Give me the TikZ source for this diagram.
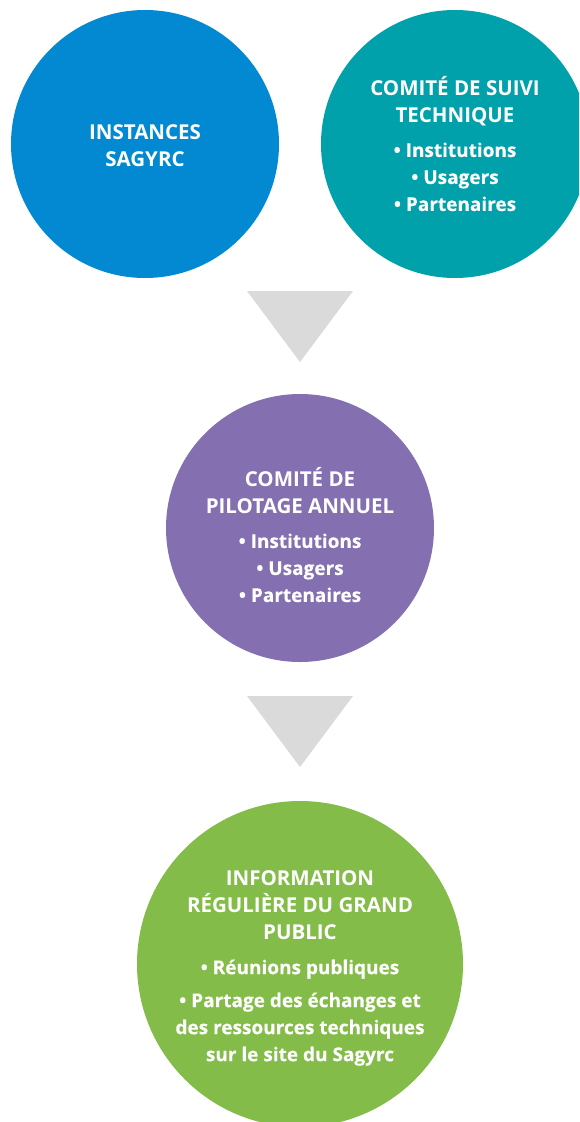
\documentclass[tikz,border=0pt]{standalone}
\usepackage{fontspec}
\setmainfont{Open Sans}
\newfontfamily\itemfont{Open Sans}[FakeBold=0.25]
\usepackage{xcolor}
\definecolor{sagblue}{RGB}{2,137,210}
\definecolor{sagteal}{RGB}{0,161,171}
\definecolor{sagpurple}{RGB}{132,112,176}
\definecolor{saggreen}{RGB}{132,188,73}
\definecolor{arrowgrey}{RGB}{218,218,218}
\newcommand{\itm}[1]{{\itemfont\fontsize{19}{27}\selectfont\textbullet\ #1}}
\newcommand{\itl}[1]{{\itemfont\fontsize{19}{27}\selectfont #1}}

\begin{document}
\begin{tikzpicture}[x=1pt,y=-1pt]
    \def\cy{144}
    \def\cxl{145}
    \def\cxr{455}
    \def\cxm{300}
    \def\rs{268pt}
    \def\rb{326pt}

    \useasboundingbox (0,0) rectangle (579,1122);
    \clip (0,0) rectangle (579,1122);

    \tikzstyle{bubble}=[circle,inner sep=0pt]
    \tikzstyle{caption}=[inner sep=0pt,text=white,align=center,font=\fontsize{20.5}{27}\selectfont\bfseries]
    \tikzstyle{funnel}=[fill=arrowgrey]

    \node[bubble,fill=sagblue,minimum size=\rs]   (inst)  at (\cxl,\cy) {};
    \node[caption] (insttxt) at (\cxl,\cy+2) {INSTANCES\\SAGYRC};

    \node[bubble,fill=sagteal,minimum size=\rs]   (suivi) at (\cxr,\cy) {};
    \node[caption] (suivitxt) at (\cxr,\cy) {COMITÉ DE SUIVI\\TECHNIQUE\\[7pt]
        \itm{Institutions}\\\itm{Usagers}\\\itm{Partenaires}};

    \fill[funnel] (\cxm-53,291) -- (\cxm+53,291) -- (\cxm,362) -- cycle;

    \node[bubble,fill=sagpurple,minimum size=\rs] (pilot) at (\cxm,528) {};
    \node[caption] (pilottxt) at (\cxm,535) {COMITÉ DE\\PILOTAGE ANNUEL\\[7pt]
        \itm{Institutions}\\\itm{Usagers}\\\itm{Partenaires}};

    \fill[funnel] (\cxm-53,696) -- (\cxm+53,696) -- (\cxm,767) -- cycle;

    \node[bubble,fill=saggreen,minimum size=\rb]  (public) at (\cxm,964) {};
    \node[caption] (publictxt) at (\cxm,968) {INFORMATION\\RÉGULIÈRE DU GRAND\\PUBLIC\\[8pt]
        \itm{Réunions publiques}\\[6pt]\itm{Partage des échanges et}\\\itl{des ressources techniques}\\\itl{sur le site du Sagyrc}};

  \end{tikzpicture}
\end{document}
